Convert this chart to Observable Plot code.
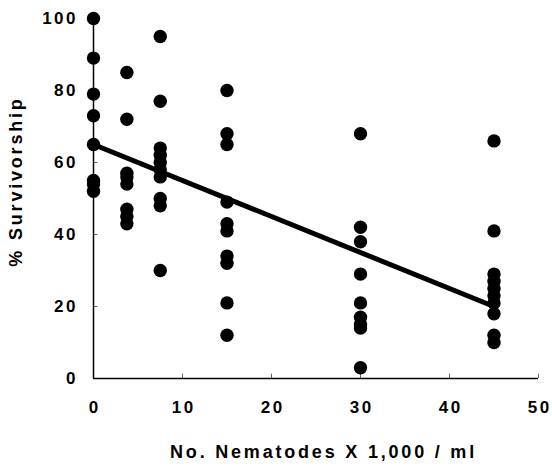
<!DOCTYPE html>
<html>
<head>
<meta charset="utf-8">
<script src="https://cdn.jsdelivr.net/npm/d3@7"></script>
<script src="https://cdn.jsdelivr.net/npm/@observablehq/plot@0.6"></script>
<style>
  html, body { margin: 0; padding: 0; background: #fff; }
  #chart svg { display: block; }
</style>
</head>
<body>
<div id="chart"></div>
<script>
// Nematode concentration (x 1,000 / ml) for each group of observations
const doses = [0, 3.75, 7.5, 15, 30, 45];
// % survivorship observations per dose group
const surv0    = [100, 89, 79, 73, 65, 55, 54, 52];
const surv375  = [85, 72, 57, 56, 54, 47, 45, 43];
const surv75   = [95, 77, 64, 62, 60, 58, 56, 50, 48, 30];
const surv15   = [80, 68, 65, 49, 43, 41, 34, 32, 21, 12];
const surv30   = [68, 42, 38, 29, 21, 17, 15, 14, 3];
const surv45   = [66, 41, 29, 27, 25, 23, 21, 18, 12, 10];
// Fitted regression line endpoints
const fitX = [0, 45];
const fitY = [65, 20];
// Axis ticks
const xTicks = [0, 10, 20, 30, 40, 50];
const yTicks = [0, 20, 40, 60, 80, 100];

const groups = [surv0, surv375, surv75, surv15, surv30, surv45];
const points = groups.flatMap((vals, i) => vals.map(v => ({x: doses[i], y: v})));
const fit = fitX.map((x, i) => ({x, y: fitY[i]}));

const font = "'Liberation Sans', Arial, sans-serif";

const chart = Plot.plot({
  width: 552,
  height: 468,
  marginLeft: 93,
  marginRight: 14,
  marginTop: 18,
  marginBottom: 90,
  style: {fontFamily: font, fontSize: "17px", fontWeight: "bold", color: "#000", background: "#fff"},
  x: {domain: [0, 50]},
  y: {domain: [0, 100]},
  marks: [
    Plot.axisX({ticks: xTicks, tickSize: 0, tickPadding: 22, tickFormat: d => d,
      label: "No. Nematodes X 1,000 / ml", labelAnchor: "center", labelArrow: "none", labelOffset: 79,
      fontSize: 17, fontWeight: "bold"}),
    Plot.axisY({ticks: yTicks, tickSize: 0, tickPadding: 18, tickFormat: d => d,
      label: "% Survivorship", labelAnchor: "center", labelArrow: "none", labelOffset: 84,
      fontSize: 17, fontWeight: "bold"}),
    Plot.ruleX(xTicks.slice(1), {x: d => d, y1: 0, y2: 1.2, stroke: "#666", strokeWidth: 1}),
    Plot.ruleY(yTicks.slice(1), {y: d => d, x1: 0, x2: 0.5, stroke: "#666", strokeWidth: 1}),
    Plot.ruleY([0], {x1: 0, x2: 50, stroke: "#000", strokeWidth: 1.5}),
    Plot.ruleX([0], {y1: 0, y2: 100, stroke: "#000", strokeWidth: 1.5}),
    Plot.line(fit, {x: "x", y: "y", stroke: "#000", strokeWidth: 5}),
    Plot.dot(points, {x: "x", y: "y", r: 6.7, fill: "#000", stroke: "none"})
  ]
});
document.getElementById("chart").appendChild(chart);

// Typographic adjustments: the original uses widely tracked bold sans-serif
const svg = d3.select(chart);
svg.selectAll('g[aria-label="x-axis tick label"] text, g[aria-label="y-axis tick label"] text')
  .attr("letter-spacing", "2.5px");
svg.selectAll('g[aria-label="y-axis tick label"] text').attr("dx", "2.5");
svg.selectAll('g[aria-label="x-axis tick label"] text').attr("dx", "1.25");
svg.selectAll('g[aria-label="x-axis label"] text')
  .attr("letter-spacing", "2.8px").attr("dx", "7.5").style("font-size", "18px");
svg.selectAll('g[aria-label="y-axis label"] text')
  .attr("letter-spacing", "2.8px").attr("dx", "17").style("font-size", "18px");
</script>
</body>
</html>
